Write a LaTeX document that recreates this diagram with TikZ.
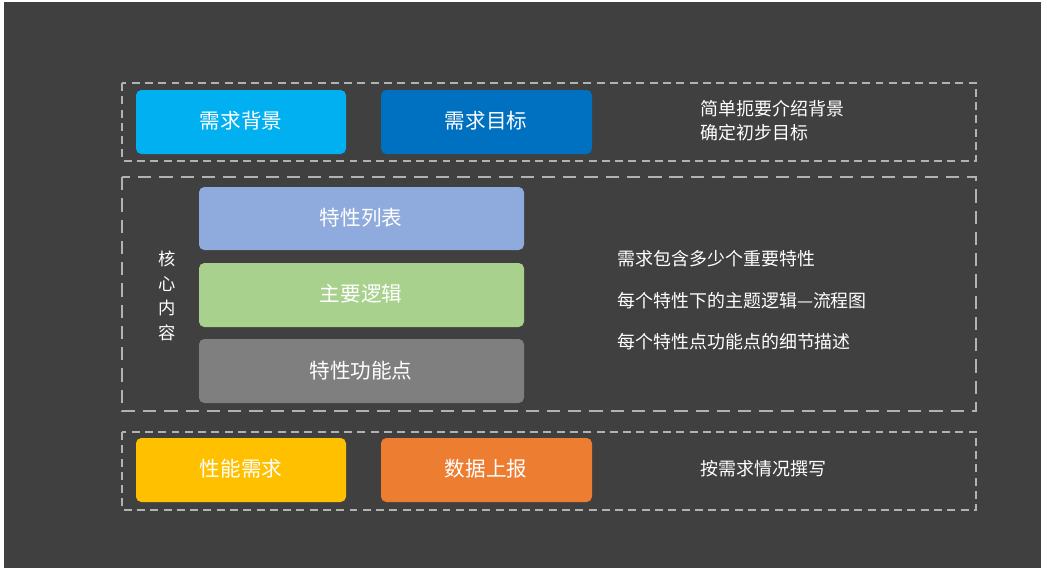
\documentclass[tikz,border=0pt]{standalone}
\usepackage{fontspec}
\setmainfont{Noto Sans CJK SC}
\definecolor{bg}{HTML}{404040}
\definecolor{cblue}{HTML}{00B0F0}
\definecolor{cdblue}{HTML}{0070C0}
\definecolor{cviolet}{HTML}{8FAADC}
\definecolor{cgreen}{HTML}{A9D18E}
\definecolor{cgray}{HTML}{7F7F7F}
\definecolor{cyellow}{HTML}{FFC000}
\definecolor{corange}{HTML}{ED7D31}
\tikzset{
  block/.style={rounded corners=4pt},
  label/.style={text=white, font=\fontsize{15.5}{18}\selectfont},
  frame/.style={draw=gray!60, dashed, line width=0.8pt},
  note/.style={text=white, anchor=west, font=\fontsize{13.5}{18}\selectfont, align=left}
}
\begin{document}
\begin{tikzpicture}[x=0.02646cm, y=-0.02646cm]
		% Background
		\useasboundingbox (0,0) rectangle (1047,576);
		\fill[white] (0,0) rectangle (1047,576);
		\fill[bg] (4,2) rectangle (1041,568);
		
		% Dashed frames
		\draw[frame, dash pattern=on 6pt off 4pt] (122,83) rectangle (976,161);
		\draw[frame, dash pattern=on 10pt off 6pt] (122,177) rectangle (976,411);
		\draw[frame, dash pattern=on 6pt off 4pt] (122,432) rectangle (976,510);
		
		% Top row
		\fill[block, cblue] (136,90) rectangle (346,154);
		\node[label] (bkg) at (241,121) {需求背景};
		\fill[block, cdblue] (381,90) rectangle (592,154);
		\node[label] (goal) at (486,121) {需求目标};
		\node[note] (topnote) at (696,121) {简单扼要介绍背景\\确定初步目标};
		
		% Core blocks
		\fill[block, cviolet] (199,187) rectangle (524,250);
		\node[label] (list) at (361,218) {特性列表};
		\fill[block, cgreen] (199,263) rectangle (524,327);
		\node[label] (logic) at (361,294) {主要逻辑};
		\fill[block, cgray] (199,339) rectangle (524,403);
		\node[label] (point) at (361,371) {特性功能点};
		\node[text=white, align=center, font=\fontsize{13}{18.5}\selectfont] (core) at (167,296) {核\\心\\内\\容};
		\node[note] (n1) at (613,259) {需求包含多少个重要特性};
		\node[note] (n2) at (613,301) {每个特性下的主题逻辑—流程图};
		\node[note] (n3) at (613,342) {每个特性点功能点的细节描述};
		
		% Bottom row
		\fill[block, cyellow] (136,438) rectangle (346,502);
		\node[label] (perf) at (241,469) {性能需求};
		\fill[block, corange] (381,438) rectangle (592,502);
		\node[label] (data) at (486,469) {数据上报};
		\node[note] (bnote) at (696,469) {按需求情况撰写};
	\end{tikzpicture}
\end{document}
